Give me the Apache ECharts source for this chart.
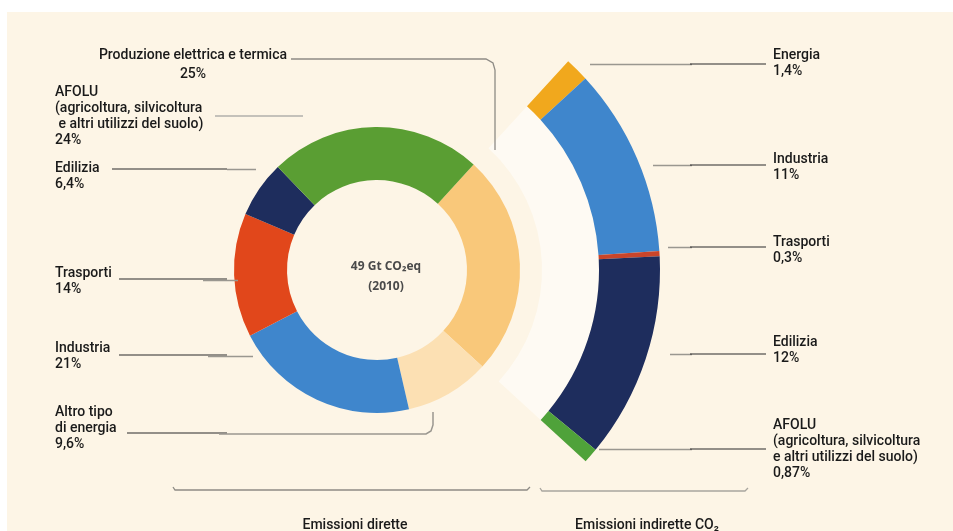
<!DOCTYPE html>
<html>
<head>
<meta charset="utf-8">
<script src="https://cdn.jsdelivr.net/npm/echarts@6/dist/echarts.min.js"></script>
<style>
html,body{margin:0;padding:0;background:#fdf5e6;}
#chart{width:953px;height:531px;}
</style>
</head>
<body>
<div id="chart"></div>
<script>
// ---- data ----
const directNames = ['Produzione elettrica e termica', 'Altro tipo di energia', 'Industria', 'Trasporti', 'Edilizia', 'AFOLU'];
const directLabels = ['Produzione elettrica e termica', 'Altro tipo\ndi energia', 'Industria', 'Trasporti', 'Edilizia', 'AFOLU\n(agricoltura, silvicoltura\n e altri utilizzi del suolo)'];
const directValues = [25, 9.6, 21, 14, 6.4, 24];
const indirectNames = ['Energia', 'Industria', 'Trasporti', 'Edilizia', 'AFOLU'];
const indirectLabels = ['Energia', 'Industria', 'Trasporti', 'Edilizia', 'AFOLU\n(agricoltura, silvicoltura\ne altri utilizzi del suolo)'];
const indirectValues = [1.4, 11, 0.3, 12, 0.87];
const centerLines = ['49 Gt CO\u2082eq', '(2010)'];
const groupLabels = ['Emissioni dirette', 'Emissioni indirette CO\u2082'];

// ---- styles ----
const directColors = ['#f9c87a', '#fce0b3', '#3f86cc', '#e1471b', '#1e2d5d', '#5a9e33'];
const indirectColors = ['#f1a81d', '#3f86cc', '#c9452a', '#1e2d5d', '#4fa23a'];
const fmt = v => String(v).replace('.', ',') + '%';

const C = [377, 270];
const restDirect = directValues.slice(1).reduce((a, b) => a + b, 0);
// the outer ring expands the "Produzione elettrica e termica" slice over the same angle
const indirectSum = indirectValues.reduce((a, b) => a + b, 0);
const ringFiller = indirectSum * restDirect / directValues[0];

const chart = echarts.init(document.getElementById('chart'), null, {renderer: 'canvas'});

const FONT = '500 14px Roboto';
const INK = '#1a1a1a';
const g = [];
function text(x, y, str, align) {
  g.push({type: 'text', x: x, y: y, z: 10, style: {text: str, font: FONT, fill: INK, align: align || 'left', verticalAlign: 'top', lineHeight: 16}});
}
function line(pts, color, w) {
  g.push({type: 'polyline', z: 5, shape: {points: pts}, style: {stroke: color, lineWidth: w || 1.2, fill: null}});
}
const DARK = '#2a2a2a', GREY = '#9a9790';

// white margins of the scan
g.push({type: 'rect', z: 0, shape: {x: 0, y: 0, width: 953, height: 12}, style: {fill: '#ffffff'}});
g.push({type: 'rect', z: 0, shape: {x: 0, y: 0, width: 7, height: 531}, style: {fill: '#ffffff'}});

// left labels (direct)
text(287, 47, directLabels[0], 'right');
text(193, 66, fmt(directValues[0]), 'center');
line([[291, 59], [486, 59], [493, 63], [495, 70], [495, 150]], '#8e8b85', 1.3);
text(55, 84, directLabels[5] + '\n' + fmt(directValues[5]));
line([[215, 116], [303, 116]], '#c4c1ba', 2);
text(55, 160, directLabels[4] + '\n' + fmt(directValues[4]));
line([[112, 169], [227, 169]], DARK, 1.2);
line([[227, 169.5], [256, 169.5]], GREY, 1.5);
text(55, 265, directLabels[3] + '\n' + fmt(directValues[3]));
line([[119, 279], [227, 279]], DARK, 1.2);
line([[203, 280.5], [238, 280.5]], GREY, 1.5);
text(55, 340, directLabels[2] + '\n' + fmt(directValues[2]));
line([[119, 355], [227, 355]], DARK, 1.2);
line([[208, 356.5], [253, 356.5]], GREY, 1.5);
text(55, 404, directLabels[1] + '\n' + fmt(directValues[1]));
line([[127, 433], [227, 433]], DARK, 1.2);
line([[219, 434], [426, 434], [431, 431], [433, 425], [433, 412]], GREY, 1.5);

// right labels (indirect)
const rY = [47, 151, 234, 334, 417];
const lY = [64, 165, 247, 354, 449];
const lX = [590, 653, 668, 670, 599];
for (let i = 0; i < indirectLabels.length; i++) {
  text(773, rY[i], indirectLabels[i] + '\n' + fmt(indirectValues[i]));
  line([[lX[i], lY[i] + 0.5], [692, lY[i] + 0.5]], GREY, 1.5);
  line([[690, lY[i]], [766, lY[i]]], DARK, 1.2);
}

// center text
g.push({type: 'text', x: 386, y: 267, z: 10, style: {text: centerLines[0], font: 'bold 12px "Open Sans"', fill: '#4a4a4a', align: 'center', verticalAlign: 'middle'}});
g.push({type: 'text', x: 386, y: 287, z: 10, style: {text: centerLines[1], font: 'bold 12px "Open Sans"', fill: '#4a4a4a', align: 'center', verticalAlign: 'middle'}});

// bottom brackets
line([[173, 487], [175, 490], [527, 490], [530, 487]], '#8e8b85', 1.3);
line([[540, 488], [542, 491], [745, 491], [748, 488]], '#a8a59e', 1.3);
text(355, 517, groupLabels[0], 'center');
text(647, 517, groupLabels[1], 'center');

const base = {type: 'pie', silent: true, center: C, startAngle: 47.5, clockwise: true,
  label: {show: false}, labelLine: {show: false}, emphasis: {disabled: true}};

const option = {
  backgroundColor: '#fdf5e6',
  animation: false,
  graphic: g,
  series: [
    Object.assign({}, base, {
      radius: [165, 222],
      data: [
        {name: 'band', value: directValues[0], itemStyle: {color: 'rgba(255,255,255,0.5)'}},
        {name: 'rest', value: restDirect, itemStyle: {color: 'rgba(0,0,0,0)'}}
      ]
    }),
    Object.assign({}, base, {
      radius: [90, 143],
      data: directNames.map((n, i) => ({name: n, value: directValues[i], itemStyle: {color: directColors[i]}}))
    }),
    Object.assign({}, base, {
      radius: [222, 283],
      data: indirectNames.map((n, i) => ({name: n, value: indirectValues[i], itemStyle: {color: indirectColors[i]}}))
        .concat([{name: 'rest', value: ringFiller, itemStyle: {color: 'rgba(0,0,0,0)'}}])
    })
  ]
};
chart.setOption(option);
</script>
</body>
</html>
